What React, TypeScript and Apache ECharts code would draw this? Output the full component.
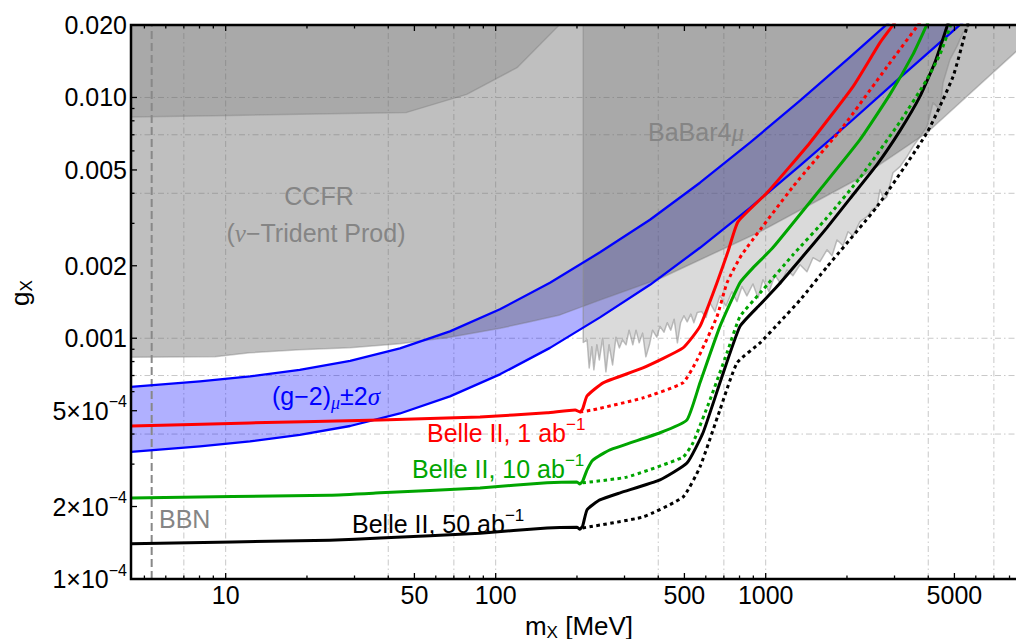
import React, { useEffect, useRef } from 'react';
import * as echarts from 'echarts';

// ---- axis ranges: dark-photon mass m_X [MeV] vs coupling g_X ----
const X_MIN = 4.46;
const X_MAX = 9526;
const Y_MIN = 1e-4;
const Y_MAX = 0.02;

const xTicksMajor = [10, 50, 100, 500, 1000, 5000];
const xTickLabels = ['10', '50', '100', '500', '1000', '5000'];
const xTicksMinor = [5, 6, 7, 8, 9, 20, 30, 40, 60, 70, 80, 90, 200, 300, 400, 600, 700, 800, 900, 2000, 3000, 4000, 6000, 7000, 8000, 9000];
const yTicksMajor = [1e-4, 2e-4, 5e-4, 1e-3, 2e-3, 5e-3, 1e-2, 2e-2];
const yTickLabels = ['1×10', '2×10', '5×10', '0.001', '0.002', '0.005', '0.010', '0.020'];
const yTickExponents = ['−4', '−4', '−4', '', '', '', '', ''];
const yTicksMinor = [3e-4, 4e-4, 6e-4, 7e-4, 8e-4, 9e-4, 3e-3, 4e-3, 6e-3, 7e-3, 8e-3, 9e-3];
const gridX = [7, 10, 40, 70, 100, 400, 700, 1000, 4000, 7000];
const gridY = [4e-4, 7e-4, 1e-3, 4e-3, 7e-3, 1e-2];
const bbnMass = 5.32;

// ---- excluded regions ----
const ccfrEdge = [
  [4.46, 8.33e-4], [9.13, 8.37e-4], [12.3, 8.7e-4], [18.8, 8.95e-4], [28.9, 9.12e-4], [44.2, 9.48e-4],
  [67.7, 1.01e-3], [104, 1.1e-3], [134, 1.17e-3], [173, 1.25e-3], [243, 1.44e-3], [406, 1.77e-3],
  [953, 2.77e-3], [2235, 4.64e-3], [3958, 7.14e-3], [8453, 0.0155], [9526, 0.0176],
];
const upperLeftEdge = [
  [4.46, 8.3e-3], [10.4, 8.42e-3], [46.8, 8.67e-3], [78.1, 0.0103], [120, 0.0133], [172, 0.02],
];
const babarEdge = [
  [211, 9.6e-4], [218, 9.85e-4], [222, 7.53e-4], [227, 9.21e-4], [231, 7.39e-4], [237, 9.39e-4], [242, 8.13e-4],
  [249, 1.0e-3], [256, 7.25e-4], [263, 9.39e-4], [271, 7.75e-4], [279, 1.01e-3], [287, 9.12e-4], [295, 9.85e-4],
  [304, 9.39e-4], [312, 1.08e-3], [322, 9.39e-4], [331, 1.08e-3], [340, 9.57e-4], [350, 1.05e-3], [360, 8.37e-4],
  [371, 9.39e-4], [381, 1.08e-3], [395, 1.01e-3], [406, 1.12e-3], [420, 1.06e-3], [432, 1.16e-3], [445, 1.08e-3],
  [458, 1.2e-3], [471, 9.57e-4], [484, 1.16e-3], [498, 1.24e-3], [512, 1.17e-3], [528, 1.26e-3], [542, 1.16e-3],
  [558, 1.28e-3], [579, 1.29e-3], [601, 1.22e-3], [622, 1.4e-3], [649, 1.29e-3], [677, 1.5e-3], [713, 1.36e-3],
  [750, 1.56e-3], [783, 1.42e-3], [817, 1.64e-3], [852, 1.5e-3], [897, 1.68e-3], [937, 1.47e-3], [977, 1.75e-3],
  [1029, 1.56e-3], [1082, 1.83e-3], [1139, 1.68e-3], [1199, 1.92e-3], [1262, 1.82e-3], [1340, 2.02e-3],
  [1422, 1.89e-3], [1497, 2.16e-3], [1589, 2.08e-3], [1687, 2.33e-3], [1761, 2.2e-3], [1837, 2.56e-3],
  [1934, 2.42e-3], [2018, 2.77e-3], [2106, 2.66e-3], [2235, 3.05e-3], [2373, 3.2e-3], [2476, 3.42e-3],
  [2584, 3.52e-3], [2651, 4.14e-3], [2742, 3.76e-3], [2813, 3.87e-3], [2961, 4.87e-3], [3144, 5.16e-3],
  [3337, 5.68e-3], [3512, 6.25e-3], [3728, 6.87e-3], [3958, 7.56e-3], [4166, 9.51e-3], [4421, 8.9e-3],
  [4536, 0.0115], [4815, 0.0144], [5109, 0.0163], [5380, 0.0186], [5711, 0.02],
];

// ---- (g-2)_mu +- 2 sigma band ----
const gm2Upper = [
  [4.46, 6.28e-4], [8.03, 6.62e-4], [12.3, 6.94e-4], [18.8, 7.39e-4], [28.9, 8.06e-4], [44.2, 9.08e-4],
  [67.7, 1.068e-3], [103.7, 1.319e-3], [158.9, 1.7e-3], [243.4, 2.275e-3], [372.8, 3.105e-3], [571, 4.425e-3],
  [874.7, 6.49e-3], [1340, 9.7e-3], [2052, 0.01471], [3144, 0.02252],
];
const gm2Lower = [
  [4.46, 3.37e-4], [8.03, 3.553e-4], [12.3, 3.73e-4], [18.8, 3.97e-4], [28.9, 4.32e-4], [44.2, 4.87e-4],
  [67.7, 5.735e-4], [103.7, 7.08e-4], [158.9, 9.12e-4], [243.4, 1.221e-3], [372.8, 1.667e-3], [571, 2.375e-3],
  [874.7, 3.48e-3], [1340, 5.21e-3], [2052, 7.89e-3], [3144, 0.01209], [4815, 0.01842], [5961, 0.02273],
];

// ---- Belle II projected sensitivities ----
const belle1Solid = [
  [4.46, 4.32e-4], [12.3, 4.45e-4], [37.3, 4.58e-4], [87.5, 4.71e-4], [155, 4.9e-4], [197, 5.04e-4], [205, 4.94e-4],
  [210, 5.09e-4], [218, 5.76e-4], [250, 6.53e-4], [351, 7.53e-4], [494, 9.12e-4], [571, 1.12e-3], [660, 1.7e-3],
  [725, 2.29e-3], [790, 3.05e-3], [1011, 4.02e-3], [1459, 6.49e-3], [2106, 0.0111], [2651, 0.0169],
  [2961, 0.02], [3225, 0.023],
];
const belle1Dotted = [
  [205, 4.94e-4], [229, 5.04e-4], [351, 5.65e-4], [494, 6.53e-4], [557, 8.13e-4], [660, 1.23e-3], [719, 1.7e-3],
  [815, 2.22e-3], [1262, 4.26e-3], [1934, 7.56e-3], [2813, 0.0134], [3728, 0.0205],
];
const belle10Solid = [
  [4.46, 2.17e-4], [24.3, 2.23e-4], [37.3, 2.28e-4], [87.5, 2.39e-4], [155, 2.51e-4], [200, 2.53e-4], [205, 2.48e-4],
  [210, 2.55e-4], [218, 2.84e-4], [229, 3.12e-4], [265, 3.44e-4], [406, 4.05e-4], [511, 4.58e-4], [571, 6.53e-4],
  [677, 1.12e-3], [803, 1.7e-3], [897, 1.96e-3], [1064, 2.38e-3], [1589, 4.14e-3], [2235, 6.68e-3],
  [2886, 0.0103], [3512, 0.0151], [3958, 0.0201], [4130, 0.0221],
];
const belle10Dotted = [
  [210, 2.51e-4], [306, 2.65e-4], [494, 3.21e-4], [538, 3.68e-4], [622, 5.55e-4], [719, 8.7e-4], [803, 1.23e-3],
  [953, 1.54e-3], [1262, 2.22e-3], [1687, 3.17e-3], [2235, 4.64e-3], [3144, 7.93e-3], [3958, 0.0119],
  [4421, 0.0151], [4898, 0.0207], [5068, 0.0227],
];
const belle50Solid = [
  [4.46, 1.4e-4], [24.3, 1.45e-4], [37.3, 1.48e-4], [87.5, 1.55e-4], [155, 1.63e-4], [200, 1.64e-4], [205, 1.61e-4],
  [210, 1.66e-4], [218, 1.94e-4], [243, 2.13e-4], [289, 2.28e-4], [406, 2.58e-4], [511, 3.03e-4], [586, 4.05e-4],
  [677, 6.53e-4], [803, 1.12e-3], [953, 1.38e-3], [1101, 1.64e-3], [1340, 2.12e-3], [1687, 2.88e-3],
  [2052, 3.8e-3], [2584, 5.26e-3], [3144, 7.28e-3], [3728, 0.0101], [4236, 0.014], [4693, 0.0197], [4857, 0.0221],
];
const belle50Dotted = [
  [210, 1.63e-4], [351, 1.81e-4], [494, 2.19e-4], [571, 2.92e-4], [677, 5.04e-4], [783, 7.9e-4], [953, 9.57e-4],
  [1130, 1.17e-3], [1340, 1.44e-3], [1687, 1.98e-3], [2584, 3.52e-3], [3958, 7.14e-3], [4941, 0.0122],
  [5568, 0.0197], [5711, 0.0221],
];

// ---- colours and fonts ----
const RED = '#ff0000';
const GREEN = '#00a500';
const BLUE = '#0000ff';
const GRAY_TEXT = '#858585';
const SANS = '"Liberation Sans", Arial, Helvetica, sans-serif';
const SERIF = '"Liberation Serif", "Times New Roman", serif';

type Seg = { t: string; size?: number; dy?: number; it?: boolean; serif?: boolean };

let measureCtx: CanvasRenderingContext2D | null = null;
function fontOf(size: number, serif?: boolean, italic?: boolean) {
  return `${italic ? 'italic ' : ''}${size}px ${serif ? SERIF : SANS}`;
}
function textWidth(text: string, font: string) {
  if (!measureCtx) measureCtx = document.createElement('canvas').getContext('2d');
  measureCtx!.font = font;
  return measureCtx!.measureText(text).width;
}
function textEl(text: string, x: number, y: number, font: string, fill: string) {
  return {
    type: 'text',
    x,
    y,
    silent: true,
    style: {
      text,
      font,
      fill,
      align: 'left',
      textAlign: 'left',
      verticalAlign: 'middle',
      textVerticalAlign: 'middle',
    },
  };
}
// lays out a run of differently styled pieces (sub/superscripts, italic greek)
function run(segs: Seg[], x: number, y: number, fill: string, align: 'left' | 'center' | 'right' = 'left', base = 25) {
  const fonts = segs.map((s) => fontOf(s.size ?? base, s.serif, s.it));
  const widths = segs.map((s, i) => textWidth(s.t, fonts[i]));
  const total = widths.reduce((a, b) => a + b, 0);
  let cx = align === 'left' ? x : align === 'center' ? x - total / 2 : x - total;
  return segs.map((s, i) => {
    const el = textEl(s.t, cx, y + (s.dy ?? 0), fonts[i], fill);
    cx += widths[i];
    return el;
  });
}

function areaSeries(name: string, pts: number[][], fill: string, stroke: string, lineWidth = 1.5) {
  return {
    type: 'custom',
    name,
    coordinateSystem: 'cartesian2d',
    silent: true,
    clip: true,
    data: [pts[0]],
    renderItem: (_p: any, api: any) => ({
      type: 'polygon',
      shape: { points: pts.map((p) => api.coord(p)) },
      style: { fill, stroke, lineWidth, lineJoin: 'round' },
    }),
  };
}

function curveSeries(name: string, data: number[][], color: string, width: number, dotted = false, smooth = 0) {
  return {
    type: 'line',
    name,
    data,
    symbol: 'none',
    showSymbol: false,
    silent: true,
    clip: true,
    smooth,
    lineStyle: { color, width, type: dotted ? [3.5, 3.5] : 'solid', cap: 'butt', join: 'round' },
  };
}

const gridStyle = { stroke: '#c8c8c8', lineWidth: 1, lineDash: [6, 3, 1.5, 3] };
const tickStyle = { stroke: '#000', lineWidth: 1.3 };
const CURVE_SMOOTH = 0.15;

function buildOption() {
  const ccfrPoly = [[X_MIN, Y_MAX], ...ccfrEdge, [X_MAX, Y_MAX]];
  const upperLeftPoly = [[X_MIN, Y_MAX], ...upperLeftEdge];
  const babarPoly = [[211, Y_MAX], ...babarEdge];
  const bandPoly = [...gm2Upper, ...gm2Lower.slice().reverse()];

  const series: any[] = [
    {
      type: 'custom',
      name: 'gridX',
      coordinateSystem: 'cartesian2d',
      silent: true,
      clip: false,
      data: gridX.map((v) => [v, Y_MIN]),
      renderItem: (params: any, api: any) => {
        const v = gridX[params.dataIndex];
        const a = api.coord([v, Y_MIN]);
        const b = api.coord([v, Y_MAX]);
        return { type: 'line', shape: { x1: a[0], y1: a[1], x2: b[0], y2: b[1] }, style: gridStyle };
      },
    },
    {
      type: 'custom',
      name: 'gridY',
      coordinateSystem: 'cartesian2d',
      silent: true,
      clip: false,
      data: gridY.map((v) => [X_MIN, v]),
      renderItem: (params: any, api: any) => {
        const v = gridY[params.dataIndex];
        const a = api.coord([X_MIN, v]);
        const b = api.coord([X_MAX, v]);
        return { type: 'line', shape: { x1: a[0], y1: a[1], x2: b[0], y2: b[1] }, style: gridStyle };
      },
    },
    areaSeries('(g-2) band', bandPoly, 'rgba(0,0,255,0.31)', 'none', 0),
    curveSeries('(g-2) upper', gm2Upper, BLUE, 2.3),
    curveSeries('(g-2) lower', gm2Lower, BLUE, 2.3),
    areaSeries('CCFR', ccfrPoly, 'rgba(100,100,100,0.41)', 'rgba(110,110,110,0.35)'),
    areaSeries('upper-left bound', upperLeftPoly, 'rgba(100,100,100,0.24)', 'rgba(110,110,110,0.3)'),
    areaSeries('BaBar 4mu', babarPoly, 'rgba(100,100,100,0.24)', 'rgba(140,140,140,0.55)'),
    {
      type: 'custom',
      name: 'BBN',
      coordinateSystem: 'cartesian2d',
      silent: true,
      clip: false,
      data: [[bbnMass, Y_MIN]],
      renderItem: (_p: any, api: any) => {
        const a = api.coord([bbnMass, Y_MIN]);
        const b = api.coord([bbnMass, Y_MAX]);
        return {
          type: 'line',
          shape: { x1: a[0], y1: a[1], x2: b[0], y2: b[1] },
          style: { stroke: '#888888', lineWidth: 2, lineDash: [8, 4] },
        };
      },
    },
    curveSeries('Belle II 50 (ext)', belle50Dotted, '#000', 3, true, CURVE_SMOOTH),
    curveSeries('Belle II 50', belle50Solid, '#000', 3, false, CURVE_SMOOTH),
    curveSeries('Belle II 10 (ext)', belle10Dotted, GREEN, 3, true, CURVE_SMOOTH),
    curveSeries('Belle II 10', belle10Solid, GREEN, 3, false, CURVE_SMOOTH),
    curveSeries('Belle II 1 (ext)', belle1Dotted, RED, 3, true, CURVE_SMOOTH),
    curveSeries('Belle II 1', belle1Solid, RED, 3, false, CURVE_SMOOTH),
    {
      type: 'custom',
      name: 'xMinorTicks',
      coordinateSystem: 'cartesian2d',
      silent: true,
      clip: false,
      z: 5,
      data: xTicksMinor.map((v) => [v, Y_MIN]),
      renderItem: (params: any, api: any) => {
        const v = xTicksMinor[params.dataIndex];
        const b = api.coord([v, Y_MIN]);
        const t = api.coord([v, Y_MAX]);
        return {
          type: 'group',
          children: [
            { type: 'line', shape: { x1: b[0], y1: b[1], x2: b[0], y2: b[1] - 3.5 }, style: tickStyle },
            { type: 'line', shape: { x1: t[0], y1: t[1], x2: t[0], y2: t[1] + 3.5 }, style: tickStyle },
          ],
        };
      },
    },
    {
      type: 'custom',
      name: 'xMajorTicks',
      coordinateSystem: 'cartesian2d',
      silent: true,
      clip: false,
      z: 5,
      data: xTicksMajor.map((v) => [v, Y_MIN]),
      renderItem: (params: any, api: any) => {
        const i = params.dataIndex;
        const v = xTicksMajor[i];
        const b = api.coord([v, Y_MIN]);
        const t = api.coord([v, Y_MAX]);
        return {
          type: 'group',
          children: [
            { type: 'line', shape: { x1: b[0], y1: b[1], x2: b[0], y2: b[1] - 6 }, style: tickStyle },
            { type: 'line', shape: { x1: t[0], y1: t[1], x2: t[0], y2: t[1] + 6 }, style: tickStyle },
            ...run([{ t: xTickLabels[i] }], b[0], b[1] + 16, '#000', 'center'),
          ],
        };
      },
    },
    {
      type: 'custom',
      name: 'yMinorTicks',
      coordinateSystem: 'cartesian2d',
      silent: true,
      clip: false,
      z: 5,
      data: yTicksMinor.map((v) => [X_MIN, v]),
      renderItem: (params: any, api: any) => {
        const v = yTicksMinor[params.dataIndex];
        const l = api.coord([X_MIN, v]);
        return { type: 'line', shape: { x1: l[0], y1: l[1], x2: l[0] + 3.5, y2: l[1] }, style: tickStyle };
      },
    },
    {
      type: 'custom',
      name: 'yMajorTicks',
      coordinateSystem: 'cartesian2d',
      silent: true,
      clip: false,
      z: 5,
      data: yTicksMajor.map((v) => [X_MIN, v]),
      renderItem: (params: any, api: any) => {
        const i = params.dataIndex;
        const v = yTicksMajor[i];
        const l = api.coord([X_MIN, v]);
        const exp = yTickExponents[i];
        const segs: Seg[] = exp ? [{ t: yTickLabels[i] }, { t: exp, size: 16, dy: -9 }] : [{ t: yTickLabels[i] }];
        return {
          type: 'group',
          children: [
            { type: 'line', shape: { x1: l[0], y1: l[1], x2: l[0] + 6, y2: l[1] }, style: tickStyle },
            ...run(segs, l[0] - 4, l[1], '#000', 'right'),
          ],
        };
      },
    },
    {
      type: 'custom',
      name: 'frame',
      coordinateSystem: 'cartesian2d',
      silent: true,
      clip: false,
      z: 6,
      data: [[X_MIN, Y_MIN]],
      renderItem: (_p: any, api: any) => {
        const a = api.coord([X_MIN, Y_MAX]);
        const b = api.coord([X_MAX, Y_MIN]);
        return {
          type: 'rect',
          shape: { x: a[0], y: a[1], width: b[0] - a[0], height: b[1] - a[1] },
          style: { fill: 'none', stroke: '#000', lineWidth: 2.5 },
        };
      },
    },
  ];

  const labels: any[] = [
    ...run([{ t: 'CCFR' }], 319, 196, GRAY_TEXT, 'center'),
    ...run([{ t: '(' }, { t: 'ν', serif: true, it: true }, { t: '−Trident Prod)' }], 316, 233, GRAY_TEXT, 'center'),
    ...run([{ t: 'BaBar4' }, { t: 'μ', serif: true, it: true }], 648, 132, GRAY_TEXT, 'left'),
    ...run(
      [{ t: '(g−2)' }, { t: 'μ', size: 18, dy: 7, serif: true, it: true }, { t: '±2' }, { t: 'σ', serif: true, it: true }],
      272, 396, BLUE, 'left'
    ),
    ...run([{ t: 'Belle II, 1 ab' }, { t: '−1', size: 17, dy: -9 }], 427, 433, RED, 'left'),
    ...run([{ t: 'Belle II, 10 ab' }, { t: '−1', size: 17, dy: -9 }], 412, 469, GREEN, 'left'),
    ...run([{ t: 'Belle II, 50 ab' }, { t: '−1', size: 17, dy: -9 }], 352, 524, '#000', 'left'),
    ...run([{ t: 'BBN' }], 159, 519, GRAY_TEXT, 'left'),
    ...run([{ t: 'm' }, { t: 'X', size: 17, dy: 6 }, { t: '\u00a0[MeV]' }], 579, 626, '#000', 'center', 26),
    {
      type: 'group',
      x: 20,
      y: 293,
      rotation: Math.PI / 2,
      children: run([{ t: 'g' }, { t: 'X', size: 17, dy: 6 }], 0, 0, '#000', 'center', 26),
    },
  ].map((el) => ({ ...el, z: 10 }));

  return {
    animation: false,
    backgroundColor: '#ffffff',
    grid: { left: 131, top: 25, width: 899, height: 554, containLabel: false },
    xAxis: {
      type: 'log',
      logBase: 10,
      min: X_MIN,
      max: X_MAX,
      axisLine: { show: false },
      axisTick: { show: false },
      axisLabel: { show: false },
      splitLine: { show: false },
    },
    yAxis: {
      type: 'log',
      logBase: 10,
      min: Y_MIN,
      max: Y_MAX,
      axisLine: { show: false },
      axisTick: { show: false },
      axisLabel: { show: false },
      splitLine: { show: false },
    },
    series,
    graphic: { elements: labels },
  };
}

export default function App() {
  const ref = useRef<HTMLDivElement>(null);
  useEffect(() => {
    if (!ref.current) return;
    const chart = echarts.init(ref.current, undefined, { renderer: 'svg' });
    chart.setOption(buildOption() as any);
    return () => chart.dispose();
  }, []);
  return (
    <div
      style={{
        position: 'fixed',
        left: 0,
        top: 0,
        width: 1016,
        height: 639,
        overflow: 'hidden',
        background: '#fff',
      }}
    >
      <div ref={ref} style={{ width: 1040, height: 639 }} />
    </div>
  );
}
